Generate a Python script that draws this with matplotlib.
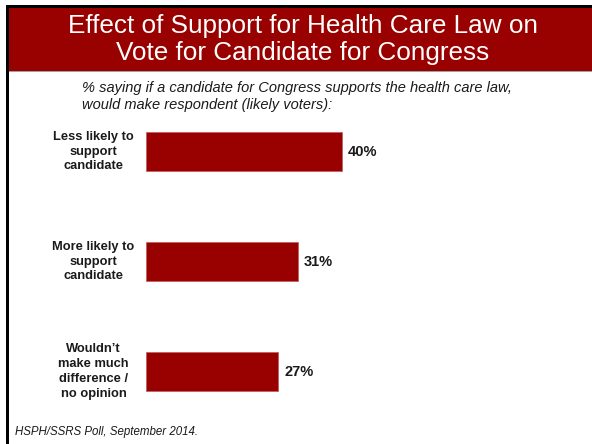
import matplotlib
matplotlib.use("Agg")
import matplotlib.pyplot as plt
from matplotlib.patches import Rectangle
from matplotlib.transforms import blended_transform_factory

plt.rcParams['font.family'] = ['Liberation Sans', 'DejaVu Sans']

categories = ["Less likely to\nsupport\ncandidate",
              "More likely to\nsupport\ncandidate",
              "Wouldn\u2019t\nmake much\ndifference /\nno opinion"]
values = [40, 31, 27]
value_labels = ["40%", "31%", "27%"]

title = "Effect of Support for Health Care Law on\nVote for Candidate for Congress"
subtitle = ("% saying if a candidate for Congress supports the health care law,\n"
            "would make respondent (likely voters):")
footer = "HSPH/SSRS Poll, September 2014."

RED = "#990000"
W, H = 592, 444
fig = plt.figure(figsize=(W / 100, H / 100), dpi=100)
fig.patch.set_facecolor("white")

def px(x, y, w, h):
    # pixel coords (top-left origin) -> figure fraction
    return (x / W, 1 - (y + h) / H, w / W, h / H)

# frame lines and banner
for (x, y, w, h, c) in [(6, 5, 586, 3, "black"), (6, 5, 3, 439, "black"),
                        (9, 8, 583, 63, RED), (9, 71, 583, 1.2, "#a0a0a0")]:
    fx, fy, fw, fh = px(x, y, w, h)
    fig.patches.append(Rectangle((fx, fy), fw, fh, transform=fig.transFigure,
                                 facecolor=c, edgecolor="none", zorder=0))

fig.text(303 / W, 1 - 39.5 / H, title, ha="center", va="center", color="white",
         fontsize=18.8, linespacing=1.12)
fig.text(82 / W, 1 - 96.5 / H, subtitle, ha="left", va="center", color="#1a1a1a",
         fontsize=10.5, style="italic", linespacing=1.2)
fig.text(15 / W, 1 - 432 / H, footer, ha="left", va="center", color="#1a1a1a",
         fontsize=8.3, style="italic")

# bar axes
left_px, right_px = 146, 592
top_px, bot_px = 85.5, 437.5
ax = fig.add_axes(px(left_px, top_px, right_px - left_px, bot_px - top_px))
ax.set_xlim(0, (right_px - left_px) / 4.9)
ax.set_ylim(2.6, -0.6)
ax.axis("off")
ypos = list(range(len(values)))
ax.barh(ypos, values, height=0.355, color=RED, edgecolor="#c06060", linewidth=0.6)
for y, v, lab in zip(ypos, values, value_labels):
    ax.annotate(lab, (v, y), xytext=(4.5, 0), textcoords="offset points",
                ha="left", va="center", fontsize=10.5, fontweight="bold", color="#1a1a1a")

tr = blended_transform_factory(fig.transFigure, ax.transData)
for y, cat in zip(ypos, categories):
    fig.text(93.5 / W, y, cat, transform=tr, ha="center", va="center",
             fontsize=9.3, fontweight="bold", color="#1a1a1a", linespacing=1.3)

fig.savefig("out.png", dpi=100)
